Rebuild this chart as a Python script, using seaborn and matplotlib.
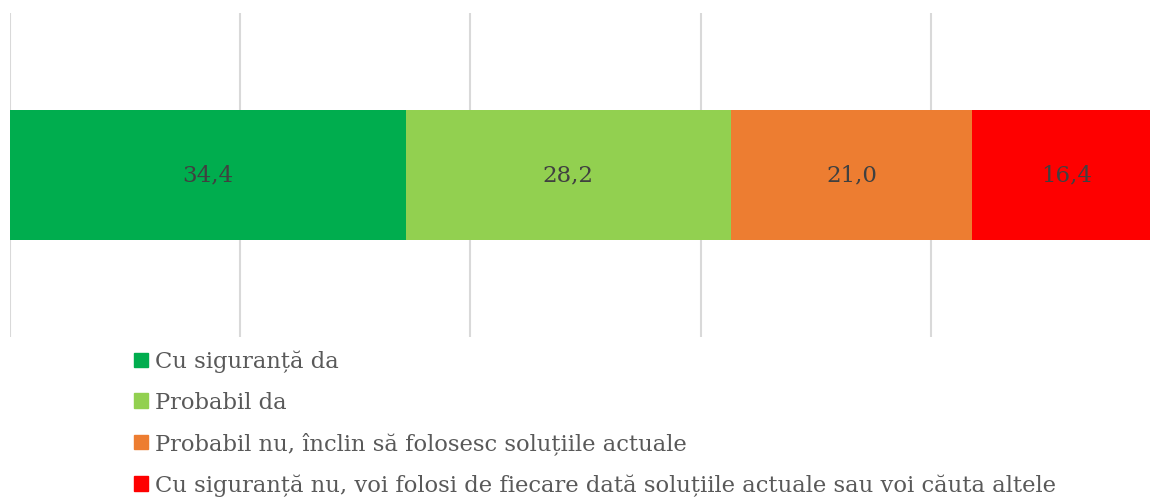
import matplotlib
matplotlib.use('Agg')
import matplotlib.pyplot as plt
import matplotlib.patches as mpatches
import numpy as np
import pandas as pd
import seaborn as sns

categories = [
    'Cu siguranță da',
    'Probabil da',
    'Probabil nu, înclin să folosesc soluțiile actuale',
    'Cu siguranță nu, voi folosi de fiecare dată soluțiile actuale sau voi căuta altele',
]
values = [34.4, 28.2, 21.0, 16.4]
colors = ['#00ad4e', '#92d050', '#ed7d31', '#fe0000']
value_labels = ['34,4', '28,2', '21,0', '16,4']

sns.set_theme(style='white')
plt.rcParams['font.family'] = ['DejaVu Serif']

fig = plt.figure(figsize=(11.5, 5), dpi=100)
ax = fig.add_axes([10 / 1150, 1 - 337 / 500, 1151 / 1150, 324 / 500])

cum = np.cumsum(values)
df = pd.DataFrame({'cat': categories, 'end': cum, 'row': [''] * len(values)})

# stacked bar: draw cumulative totals from the longest down
for i in range(len(values) - 1, -1, -1):
    sns.barplot(data=df.iloc[[i]], x='end', y='row', color=colors[i],
                orient='h', width=0.4, saturation=1, linewidth=0, ax=ax, zorder=2)

for i, v in enumerate(values):
    ax.text(cum[i] - v / 2, 0, value_labels[i], ha='center', va='center',
            fontsize=16.5, color='#404040', zorder=3)

ax.set_xlim(0, 100)
ax.set_ylim(0.5, -0.5)
ax.set_xticks([0, 20, 40, 60, 80, 100])
ax.xaxis.grid(True, color='#d9d9d9', linewidth=1.5)
ax.set_axisbelow(True)
for s in ax.spines.values():
    s.set_visible(False)
ax.tick_params(left=False, bottom=False, labelleft=False, labelbottom=False)
ax.set_xlabel('')
ax.set_ylabel('')

handles = [mpatches.Patch(color=c, label=l) for c, l in zip(colors, categories)]
fig.legend(handles=handles, loc='upper left', bbox_to_anchor=(114 / 1150, 1 - 330 / 500),
           frameon=False, fontsize=16.3, labelcolor='#595959',
           handlelength=0.6, handleheight=0.6, handletextpad=0.3, labelspacing=0.83)

fig.savefig('out.png', dpi=100)
